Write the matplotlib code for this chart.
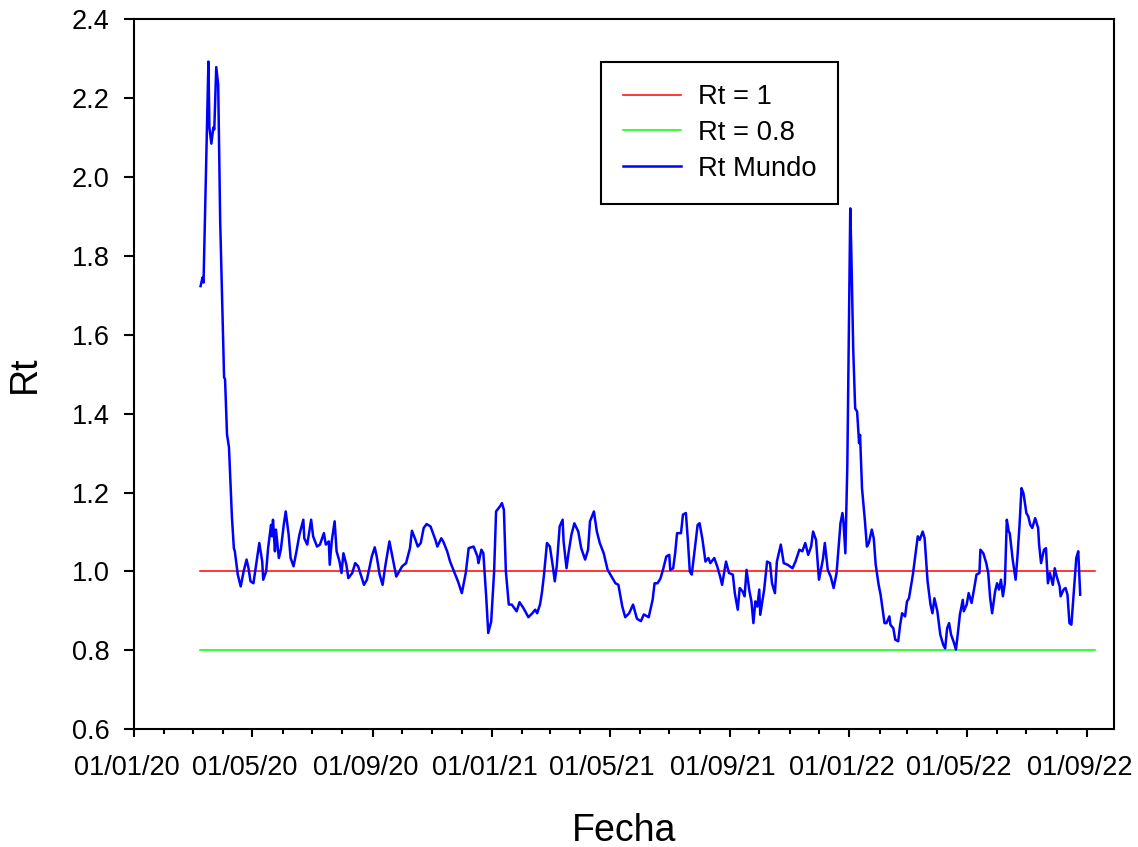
import numpy as np
import matplotlib
matplotlib.use('Agg')
import matplotlib.pyplot as plt
import matplotlib.dates as mdates
from matplotlib.transforms import ScaledTranslation

plt.rcParams['font.family'] = ['Liberation Sans', 'DejaVu Sans']

# dias contados desde el 01/01/2020, Rt
inicio = np.datetime64('2020-01-01')
dias = [68, 70, 71, 76, 77, 79, 81, 82, 84, 86, 88, 92, 93, 95, 97, 100, 102, 103,
        106, 109, 112, 115, 117, 119, 122, 125, 128, 131, 132, 135, 137, 140, 141,
        142, 144, 145, 148, 150, 153, 155, 158, 160, 163, 166, 169, 173, 174, 177,
        181, 183, 187, 190, 194, 196, 199, 200, 202, 205, 207, 210, 212, 214, 217,
        219, 223, 226, 229, 235, 238, 243, 246, 248, 251, 254, 257, 261, 265, 268,
        271, 274, 278, 282, 284, 287, 290, 293, 296, 299, 303, 308, 310, 314, 316,
        320, 323, 327, 331, 335, 339, 342, 347, 351, 352, 355, 357, 360, 362, 365,
        368, 370, 374, 376, 378, 380, 383, 386, 391, 394, 398, 403, 407, 410, 412,
        415, 417, 419, 422, 425, 428, 430, 432, 435, 438, 439, 442, 444, 447, 450,
        454, 457, 461, 464, 466, 470, 473, 476, 480, 484, 489, 492, 495, 499, 502,
        506, 510, 514, 518, 521, 526, 530, 532, 535, 538, 541, 544, 547, 548, 551,
        553, 555, 559, 561, 564, 566, 568, 570, 572, 576, 578, 581, 584, 587, 589,
        593, 596, 599, 601, 605, 608, 612, 614, 617, 619, 622, 624, 626, 629, 631,
        633, 635, 637, 639, 640, 644, 647, 650, 652, 655, 657, 661, 664, 668, 673,
        676, 680, 683, 686, 689, 692, 694, 697, 700, 704, 706, 709, 712, 715, 718,
        722, 724, 725, 727, 729, 732, 733, 735, 737, 739, 741, 742, 744, 747, 749,
        751, 754, 756, 758, 761, 763, 767, 769, 772, 773, 776, 778, 781, 783, 785,
        788, 790, 792, 796, 799, 801, 803, 806, 808, 811, 814, 816, 818, 821, 824,
        827, 829, 831, 833, 835, 838, 840, 842, 844, 847, 848, 851, 853, 856, 859,
        861, 864, 865, 868, 871, 873, 875, 877, 880, 882, 884, 886, 888, 890, 892,
        894, 895, 898, 901, 903, 905, 907, 909, 912, 914, 916, 918, 921, 924, 925,
        927, 930, 932, 934, 936, 939, 941, 943, 946, 947, 950, 952, 954, 956, 958,
        960, 963, 965, 967]
rt = [1.723, 1.745, 1.732, 2.292, 2.125, 2.084, 2.125, 2.120, 2.278, 2.233, 1.890,
      1.492, 1.487, 1.347, 1.315, 1.139, 1.059, 1.051, 0.992, 0.962, 1.000, 1.030,
      1.008, 0.975, 0.970, 1.021, 1.072, 1.025, 0.979, 1.000, 1.059, 1.118, 1.089,
      1.131, 1.051, 1.106, 1.034, 1.055, 1.118, 1.152, 1.093, 1.034, 1.013, 1.051,
      1.093, 1.131, 1.084, 1.068, 1.131, 1.089, 1.063, 1.068, 1.097, 1.068, 1.076,
      1.017, 1.076, 1.127, 1.051, 1.025, 0.996, 1.046, 1.017, 0.983, 0.996, 1.021,
      1.013, 0.966, 0.979, 1.038, 1.061, 1.038, 0.992, 0.966, 1.017, 1.076, 1.025,
      0.987, 1.000, 1.013, 1.021, 1.059, 1.103, 1.084, 1.063, 1.072, 1.110, 1.120,
      1.114, 1.080, 1.063, 1.084, 1.076, 1.051, 1.025, 1.000, 0.975, 0.945, 0.996,
      1.059, 1.063, 1.038, 1.021, 1.055, 1.046, 0.932, 0.844, 0.873, 1.000, 1.152,
      1.165, 1.173, 1.156, 1.000, 0.916, 0.916, 0.899, 0.922, 0.907, 0.884, 0.894,
      0.903, 0.894, 0.917, 0.949, 0.992, 1.072, 1.063, 1.013, 0.975, 1.013, 1.114,
      1.131, 1.076, 1.008, 1.046, 1.093, 1.122, 1.101, 1.059, 1.030, 1.055, 1.127,
      1.152, 1.101, 1.072, 1.046, 1.004, 0.983, 0.970, 0.966, 0.911, 0.884, 0.894,
      0.916, 0.880, 0.874, 0.891, 0.884, 0.928, 0.970, 0.970, 0.982, 1.008, 1.038,
      1.042, 1.004, 1.008, 1.046, 1.097, 1.097, 1.144, 1.148, 1.080, 1.000, 0.992,
      1.034, 1.118, 1.122, 1.080, 1.025, 1.034, 1.021, 1.034, 1.013, 0.987, 0.966,
      1.025, 0.996, 0.992, 0.945, 0.903, 0.958, 0.949, 0.937, 1.004, 0.949, 0.924,
      0.869, 0.924, 0.911, 0.954, 0.890, 0.954, 1.025, 1.021, 0.970, 0.945, 1.025,
      1.068, 1.021, 1.017, 1.008, 1.025, 1.055, 1.051, 1.072, 1.042, 1.063, 1.101,
      1.080, 0.979, 1.030, 1.072, 1.004, 0.987, 0.958, 0.996, 1.122, 1.148, 1.127,
      1.046, 1.270, 1.920, 1.818, 1.565, 1.413, 1.405, 1.325, 1.346, 1.211, 1.127,
      1.063, 1.072, 1.106, 1.084, 1.017, 0.966, 0.941, 0.869, 0.869, 0.886, 0.865,
      0.856, 0.827, 0.823, 0.865, 0.894, 0.886, 0.924, 0.932, 0.992, 1.051, 1.089,
      1.080, 1.101, 1.084, 0.975, 0.916, 0.894, 0.932, 0.899, 0.840, 0.814, 0.805,
      0.856, 0.869, 0.840, 0.819, 0.802, 0.844, 0.890, 0.928, 0.899, 0.916, 0.945,
      0.920, 0.962, 0.992, 0.996, 1.055, 1.046, 1.021, 0.996, 0.932, 0.894, 0.949,
      0.970, 0.954, 0.979, 0.937, 0.970, 1.131, 1.101, 1.097, 1.030, 0.979, 1.042,
      1.118, 1.211, 1.198, 1.148, 1.139, 1.118, 1.110, 1.135, 1.110, 1.068, 1.021,
      1.055, 1.059, 0.970, 0.996, 0.966, 1.008, 0.987, 0.962, 0.937, 0.954, 0.958,
      0.941, 0.869, 0.865, 0.932, 1.034, 1.051, 0.941]

# periodo de las lineas de referencia
ref_inicio = '2020-03-08'
ref_fin = '2022-09-09'

fechas = inicio + np.array(dias).astype('timedelta64[D]')
ref_fechas = np.array([ref_inicio, ref_fin], dtype='datetime64[D]')

fig = plt.figure(figsize=(11.38, 8.47), dpi=100)
ax = fig.add_axes([0.1178, 0.139, 0.8615, 0.8386])

ax.plot(ref_fechas, [1, 1], color='#ff0000', lw=1.1, label='Rt = 1')
ax.plot(ref_fechas, [0.8, 0.8], color='#00ff00', lw=1.1, label='Rt = 0.8')
ax.plot(fechas, rt, color='#0000ff', lw=1.8, label='Rt Mundo')

ax.set_xlim(np.datetime64('2020-01-01'), np.datetime64('2022-09-29'))
ax.set_ylim(0.6, 2.4)
ax.set_yticks(np.arange(0.6, 2.41, 0.2))
ax.yaxis.set_major_formatter(matplotlib.ticker.FormatStrFormatter('%.1f'))

ax.xaxis.set_major_locator(mdates.MonthLocator(bymonth=[1, 5, 9]))
ax.xaxis.set_minor_locator(mdates.MonthLocator())
ax.xaxis.set_major_formatter(mdates.DateFormatter('%d/%m/%y'))

ax.tick_params(axis='y', which='major', direction='out', length=7.2, width=1.5,
               labelsize=19.5, pad=10.5)
ax.tick_params(axis='x', which='major', direction='out', length=5.8, width=1.5,
               labelsize=19.5, pad=12.5)
ax.tick_params(axis='x', which='minor', direction='out', length=3.4, width=1.5)
for s in ax.spines.values():
    s.set_linewidth(1.5)

# en el original las etiquetas de fecha quedan algo a la izquierda de su marca
desplaza = ScaledTranslation(-0.075, 0, fig.dpi_scale_trans)
for tick in ax.xaxis.get_major_ticks():
    tick.label1.set_transform(tick.label1.get_transform() + desplaza)

ax.set_xlabel('Fecha', fontsize=27, labelpad=23)
ax.set_ylabel('Rt', fontsize=27, labelpad=20.5)

leg = ax.legend(loc='upper left', bbox_to_anchor=(0.4765, 0.939), fontsize=19.7,
                frameon=True, fancybox=False, edgecolor='black', framealpha=1,
                handlelength=2.12, handletextpad=0.62, labelspacing=0.36,
                borderpad=0.8, borderaxespad=0)
leg.get_frame().set_linewidth(1.5)

fig.savefig('out.png', dpi=100)
